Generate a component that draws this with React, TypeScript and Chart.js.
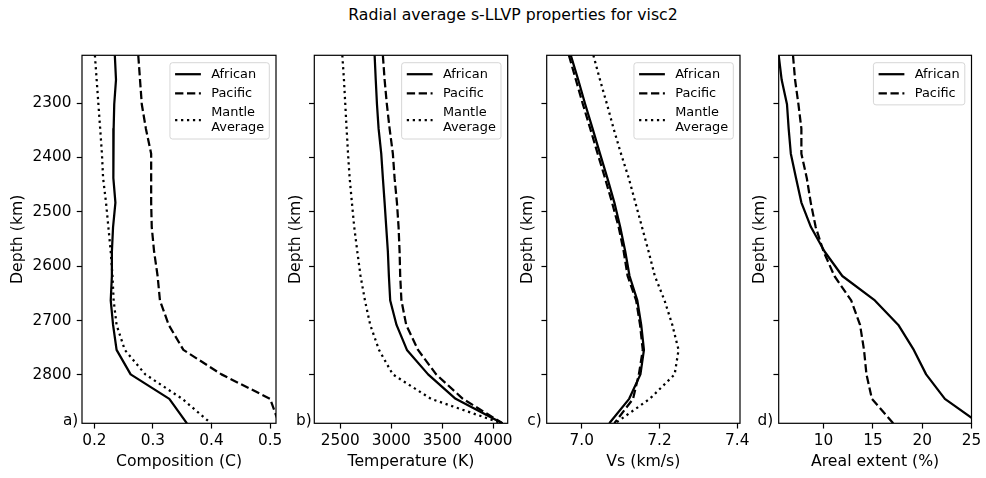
import React, { useEffect, useRef } from 'react';
import { Chart, registerables } from 'chart.js';

Chart.register(...registerables);

const FONT = '"DejaVu Sans", sans-serif';
Chart.defaults.font.family = FONT;
Chart.defaults.font.size = 15.3;
Chart.defaults.color = '#000';

// ---------- data ----------
const depthKm = [2212, 2257, 2302, 2347, 2393, 2438, 2483, 2528, 2573, 2618, 2663, 2708, 2754, 2799, 2844, 2889];
const depthTicks = [2300, 2400, 2500, 2600, 2700, 2800];
const seriesLabels = ['African', 'Pacific', 'Mantle\nAverage'];

const compAfrican = [0.235, 0.237, 0.234, 0.233, 0.232, 0.233, 0.236, 0.232, 0.230, 0.230, 0.228, 0.232, 0.238, 0.262, 0.328, 0.358];
const compPacific = [0.275, 0.278, 0.281, 0.288, 0.297, 0.297, 0.297, 0.298, 0.302, 0.308, 0.312, 0.327, 0.352, 0.417, 0.500, 0.515];
const compMantle = [0.201, 0.204, 0.207, 0.210, 0.213, 0.215, 0.220, 0.224, 0.228, 0.231, 0.233, 0.238, 0.252, 0.287, 0.350, 0.399];
const compTicks = [0.2, 0.3, 0.4, 0.5];

const tempAfrican = [2837, 2848, 2860, 2876, 2902, 2918, 2935, 2951, 2967, 2977, 2990, 3052, 3154, 3362, 3632, 4090];
const tempPacific = [2918, 2935, 2957, 2984, 3016, 3033, 3056, 3072, 3082, 3088, 3100, 3147, 3263, 3441, 3703, 4092];
const tempMantle = [2520, 2536, 2549, 2562, 2576, 2592, 2614, 2637, 2667, 2699, 2742, 2794, 2880, 3015, 3390, 4085];
const tempTicks = [2500, 3000, 3500, 4000];

const vsAfrican = [6.972, 6.991, 7.009, 7.028, 7.047, 7.066, 7.084, 7.099, 7.112, 7.123, 7.143, 7.153, 7.160, 7.151, 7.122, 7.071];
const vsPacific = [6.967, 6.985, 7.003, 7.022, 7.041, 7.060, 7.078, 7.095, 7.108, 7.118, 7.140, 7.150, 7.157, 7.147, 7.132, 7.084];
const vsMantle = [7.030, 7.047, 7.065, 7.082, 7.101, 7.121, 7.138, 7.155, 7.172, 7.188, 7.213, 7.233, 7.249, 7.239, 7.175, 7.086];
const vsTicks = [7.0, 7.2, 7.4];

const areaAfrican = [5.45, 5.75, 6.29, 6.46, 6.68, 7.21, 7.75, 8.72, 10.1, 11.9, 15.2, 17.58, 19.15, 20.4, 22.3, 25.8];
const areaPacific = [6.9, 7.11, 7.45, 7.75, 7.75, 8.3, 8.7, 9.2, 10.0, 11.1, 12.8, 13.7, 14.1, 14.35, 14.9, 17.07];
const areaTicks = [10, 15, 20, 25];

// ---------- styling ----------
const LINE_DASHES = [[], [8.3, 3.6], [2.25, 3.7]];
const CANVAS_H = 478;

type PanelCfg = {
  key: string;
  left: number;
  width: number;
  yAxisWidth: number;
  padRight: number;
  showYLabels: boolean;
  xMin: number;
  xMax: number;
  xTicks: number[];
  xFmt: (v: number) => string;
  xTitle: string;
  series: number[][];
  tag: string;
  tagGap: number;
};

const panels: PanelCfg[] = [
  {
    key: 'a', left: 9, width: 282, yAxisWidth: 73, padRight: 15, showYLabels: true,
    xMin: 0.179, xMax: 0.510, xTicks: compTicks, xFmt: (v) => v.toFixed(1),
    xTitle: 'Composition (C)', series: [compAfrican, compPacific, compMantle], tag: 'a)', tagGap: 3.7,
  },
  {
    key: 'b', left: 287, width: 236, yAxisWidth: 27.3, padRight: 15.3, showYLabels: false,
    xMin: 2245, xMax: 4143, xTicks: tempTicks, xFmt: (v) => String(v),
    xTitle: 'Temperature (K)', series: [tempAfrican, tempPacific, tempMantle], tag: 'b)', tagGap: 2.6,
  },
  {
    key: 'c', left: 519, width: 236, yAxisWidth: 27.7, padRight: 15, showYLabels: false,
    xMin: 6.910, xMax: 7.407, xTicks: vsTicks, xFmt: (v) => v.toFixed(1),
    xTitle: 'Vs (km/s)', series: [vsAfrican, vsPacific, vsMantle], tag: 'c)', tagGap: 5,
  },
  {
    key: 'd', left: 751, width: 235, yAxisWidth: 27.7, padRight: 14.5, showYLabels: false,
    xMin: 5.45, xMax: 25.0, xTicks: areaTicks, xFmt: (v) => String(v),
    xTitle: 'Areal extent (%)', series: [areaAfrican, areaPacific], tag: 'd)', tagGap: 5.4,
  },
];

function makePlugins(cfg: PanelCfg) {
  const frame = {
    id: 'frame' + cfg.key,
    afterDatasetsDraw(chart: any) {
      const { ctx, chartArea } = chart;
      const { left, top, right, bottom } = chartArea;
      ctx.save();
      ctx.strokeStyle = '#000';
      ctx.lineWidth = 1.2;
      ctx.setLineDash([]);
      ctx.strokeRect(left, top, right - left, bottom - top);
      ctx.restore();
    },
  };
  const legendAndTag = {
    id: 'mplLegend' + cfg.key,
    afterDraw(chart: any) {
      const { ctx, chartArea } = chart;
      const fs = 12.9;
      const pad = 0.4 * fs;
      const hl = 2 * fs;
      const htp = 0.8 * fs;
      const ls = 0.5 * fs;
      const lineH = 12.7;
      const lineStep = 15;
      ctx.save();
      ctx.font = `${fs}px ${FONT}`;
      const entries = chart.data.datasets.map((ds: any) => {
        const lines = String(ds.label).split('\n');
        return {
          ds,
          lines,
          h: lineH + (lines.length - 1) * lineStep,
          w: Math.max(...lines.map((l: string) => ctx.measureText(l).width)),
        };
      });
      const textW = Math.max(...entries.map((e: any) => e.w));
      const boxW = 2 * pad + hl + htp + textW;
      const boxH = 2 * pad + entries.reduce((s: number, e: any) => s + e.h, 0) + ls * (entries.length - 1);
      const x0 = chartArea.right - 6.7 - boxW;
      const y0 = chartArea.top + 7.4;
      ctx.beginPath();
      if ((ctx as any).roundRect) (ctx as any).roundRect(x0, y0, boxW, boxH, 2.6);
      else ctx.rect(x0, y0, boxW, boxH);
      ctx.fillStyle = 'rgba(255,255,255,0.8)';
      ctx.fill();
      ctx.strokeStyle = 'rgba(204,204,204,0.8)';
      ctx.lineWidth = 1;
      ctx.stroke();
      let y = y0 + pad;
      entries.forEach((e: any) => {
        const cy = y + e.h / 2;
        ctx.save();
        ctx.strokeStyle = e.ds.borderColor;
        ctx.lineWidth = e.ds.borderWidth;
        ctx.lineCap = 'butt';
        ctx.setLineDash(e.ds.borderDash || []);
        ctx.beginPath();
        ctx.moveTo(x0 + pad, cy);
        ctx.lineTo(x0 + pad + hl, cy);
        ctx.stroke();
        ctx.restore();
        ctx.fillStyle = '#000';
        ctx.textAlign = 'left';
        ctx.textBaseline = 'middle';
        e.lines.forEach((line: string, k: number) => {
          ctx.fillText(line, x0 + pad + hl + htp, y + lineH / 2 + k * lineStep);
        });
        y += e.h + ls;
      });
      ctx.font = `15.3px ${FONT}`;
      ctx.fillStyle = '#000';
      ctx.textAlign = 'right';
      ctx.textBaseline = 'alphabetic';
      ctx.fillText(cfg.tag, chartArea.left - cfg.tagGap, chartArea.bottom + 1.2);
      ctx.restore();
    },
  };
  return [frame, legendAndTag];
}

function Panel({ cfg }: { cfg: PanelCfg }) {
  const ref = useRef<HTMLCanvasElement>(null);
  useEffect(() => {
    const canvas = ref.current;
    if (!canvas) return;
    const datasets = cfg.series.map((vals, i) => ({
      label: seriesLabels[i],
      data: vals.map((v, j) => ({ x: v, y: depthKm[j] })),
      borderColor: '#000',
      backgroundColor: '#000',
      borderWidth: 2.25,
      borderDash: LINE_DASHES[i],
      borderJoinStyle: 'round' as const,
      pointRadius: 0,
      pointHoverRadius: 0,
      showLine: true,
      fill: false,
      tension: 0,
      clip: 0,
    }));
    const xGrid = { display: true, drawOnChartArea: false, drawTicks: true, tickLength: 5.25, tickWidth: 1.2, tickColor: '#000' };
    const yGrid = { display: true, drawOnChartArea: false, drawTicks: true, tickLength: 5.25, tickWidth: 1.2, tickColor: '#000' };
    const chart = new Chart(canvas, {
      type: 'scatter',
      data: { datasets: datasets as any },
      options: {
        responsive: false,
        maintainAspectRatio: false,
        devicePixelRatio: 1,
        animation: false,
        events: [],
        layout: { padding: { top: 55.3, bottom: 7, left: 0, right: cfg.padRight } },
        plugins: {
          legend: { display: false },
          tooltip: { enabled: false },
          title: { display: false },
        },
        scales: {
          x: {
            type: 'linear',
            position: 'bottom',
            min: cfg.xMin,
            max: cfg.xMax,
            grid: xGrid,
            border: { display: false },
            ticks: {
              padding: 3,
              color: '#000',
              font: { family: FONT, size: 15.3 },
              autoSkip: false,
              maxRotation: 0,
              minRotation: 0,
              callback: (v: any) => cfg.xFmt(Number(v)),
            },
            title: {
              display: true,
              text: cfg.xTitle,
              color: '#000',
              font: { family: FONT, size: 15.7 },
              padding: 0,
            },
            afterBuildTicks: (s: any) => {
              s.ticks = cfg.xTicks.map((v) => ({ value: v }));
            },
            afterFit: (s: any) => {
              s.height = 47.7;
            },
          },
          y: {
            type: 'linear',
            position: 'left',
            reverse: true,
            min: depthKm[0],
            max: depthKm[depthKm.length - 1],
            grid: yGrid,
            border: { display: false },
            ticks: {
              display: cfg.showYLabels,
              padding: 5.3,
              color: '#000',
              font: { family: FONT, size: 15.3 },
              autoSkip: false,
              callback: (v: any) => String(v),
            },
            title: {
              display: true,
              text: 'Depth (km)',
              color: '#000',
              font: { family: FONT, size: 15.7 },
              padding: 0,
            },
            afterBuildTicks: (s: any) => {
              s.ticks = depthTicks.map((v) => ({ value: v }));
            },
            afterFit: (s: any) => {
              s.width = cfg.yAxisWidth;
            },
          },
        },
      } as any,
      plugins: makePlugins(cfg) as any,
    });
    return () => chart.destroy();
  }, [cfg]);
  return (
    <canvas
      ref={ref}
      width={cfg.width}
      height={CANVAS_H}
      style={{ position: 'absolute', left: cfg.left, top: 0, width: cfg.width, height: CANVAS_H }}
    />
  );
}

export default function App() {
  return (
    <div
      style={{
        position: 'absolute',
        left: 0,
        top: 0,
        width: 986,
        height: 478,
        background: '#fff',
        overflow: 'hidden',
      }}
    >
      <div
        style={{
          position: 'absolute',
          left: 513,
          top: 6,
          transform: 'translateX(-50%)',
          whiteSpace: 'nowrap',
          fontFamily: FONT,
          fontSize: 15.7,
          lineHeight: '18.84px',
          color: '#000',
        }}
      >
        Radial average s-LLVP properties for visc2
      </div>
      {panels.map((p) => (
        <Panel key={p.key} cfg={p} />
      ))}
    </div>
  );
}
